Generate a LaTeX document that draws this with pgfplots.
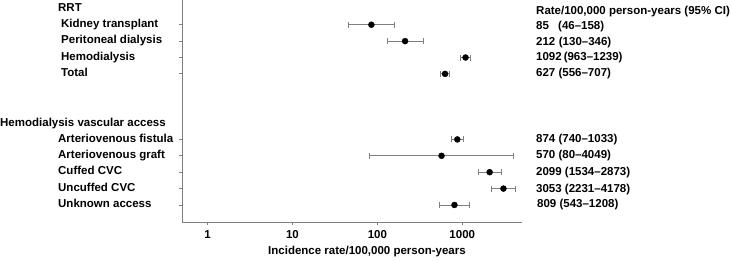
\documentclass[border=0pt]{standalone}
\usepackage{fontspec}
\setmainfont{Liberation Sans}
\usepackage{pgfplots}
\pgfplotsset{compat=1.18}
\usepackage{pgfplotstable}

\pgfplotstableread{
x y ep em
85 0 73 39
212 -1 134 82
1092 -2 147 129
627 -3 80 71
874 -7 159 134
570 -8 3479 490
2099 -9 774 565
3053 -10 1125 822
809 -11 399 266
}\rates

\begin{document}
\begin{tikzpicture}[font=\fontsize{11.5}{13}\selectfont\bfseries,
  lab/.style={anchor=mid west, inner xsep=0pt}]
\begin{axis}[
  scale only axis, width=340pt, height=222pt,
  xmode=log, xmin=0.5, xmax=5050,
  ymin=-12.04, ymax=1.51,
  axis lines*=left,
  xtick={1,10,100,1000}, xticklabels={1,10,100,1000},
  xminorticks=false,
  ytick={0,-1,-2,-3,-7,-8,-9,-10,-11}, yticklabels={},
  tick align=outside, major tick length=3pt,
  tick style={gray, line width=0.8pt},
  axis line style={gray, line width=0.8pt},
  xticklabel style={yshift=-2pt},
  clip=false,
]
\addplot[only marks, mark=*, mark size=3pt, black,
  error bars/.cd, x dir=both, x explicit,
  error bar style={gray, line width=0.9pt},
  error mark options={rotate=90, gray, mark size=3pt, line width=0.9pt}]
  table[x=x, y=y, x error plus=ep, x error minus=em] {\rates};
\coordinate (O) at (rel axis cs:0,0);
% left labels
\node[lab, xshift=-124pt] at (axis cs:0.5,0.96) {RRT};
\node[lab, xshift=-121pt] at (axis cs:0.5,0) {Kidney transplant};
\node[lab, xshift=-121pt] at (axis cs:0.5,-1) {Peritoneal dialysis};
\node[lab, xshift=-121pt] at (axis cs:0.5,-2) {Hemodialysis};
\node[lab, xshift=-121pt] at (axis cs:0.5,-3) {Total};
\node[lab, xshift=-182pt] at (axis cs:0.5,-6.06) {Hemodialysis vascular access};
\node[lab, xshift=-124pt] at (axis cs:0.5,-7) {Arteriovenous fistula};
\node[lab, xshift=-124pt] at (axis cs:0.5,-8) {Arteriovenous graft};
\node[lab, xshift=-124pt] at (axis cs:0.5,-9) {Cuffed CVC};
\node[lab, xshift=-124pt] at (axis cs:0.5,-10) {Uncuffed CVC};
\node[lab, xshift=-124pt] at (axis cs:0.5,-11) {Unknown access};
% right labels
\node[lab, xshift=354pt] at (axis cs:0.5,0.76) {Rate/100,000 person-years (95\% CI)};
\node[lab, xshift=354pt] at (axis cs:0.5,-0.1) {\makebox[22pt][l]{85}(46–158)};
\node[lab, xshift=354pt] at (axis cs:0.5,-1.1) {\makebox[22.7pt][l]{212}(130–346)};
\node[lab, xshift=354pt] at (axis cs:0.5,-2) {1092\hspace{2pt}(963–1239)};
\node[lab, xshift=354pt] at (axis cs:0.5,-3) {627 (556–707)};
\node[lab, xshift=354pt] at (axis cs:0.5,-7) {874 (740–1033)};
\node[lab, xshift=354pt] at (axis cs:0.5,-8) {570 (80–4049)};
\node[lab, xshift=354pt] at (axis cs:0.5,-9.05) {2099 (1534–2873)};
\node[lab, xshift=354pt] at (axis cs:0.5,-10.05) {3053 (2231–4178)};
\node[lab, xshift=355pt] at (axis cs:0.5,-11) {809 (543–1208)};
\end{axis}
\node[anchor=mid] at ([xshift=185pt, yshift=-29.7pt]O) {Incidence rate/100,000 person-years};
\pgfresetboundingbox
\path (O) ++(-182pt,-40pt) rectangle ++(731pt,262pt);
\end{tikzpicture}
\end{document}
